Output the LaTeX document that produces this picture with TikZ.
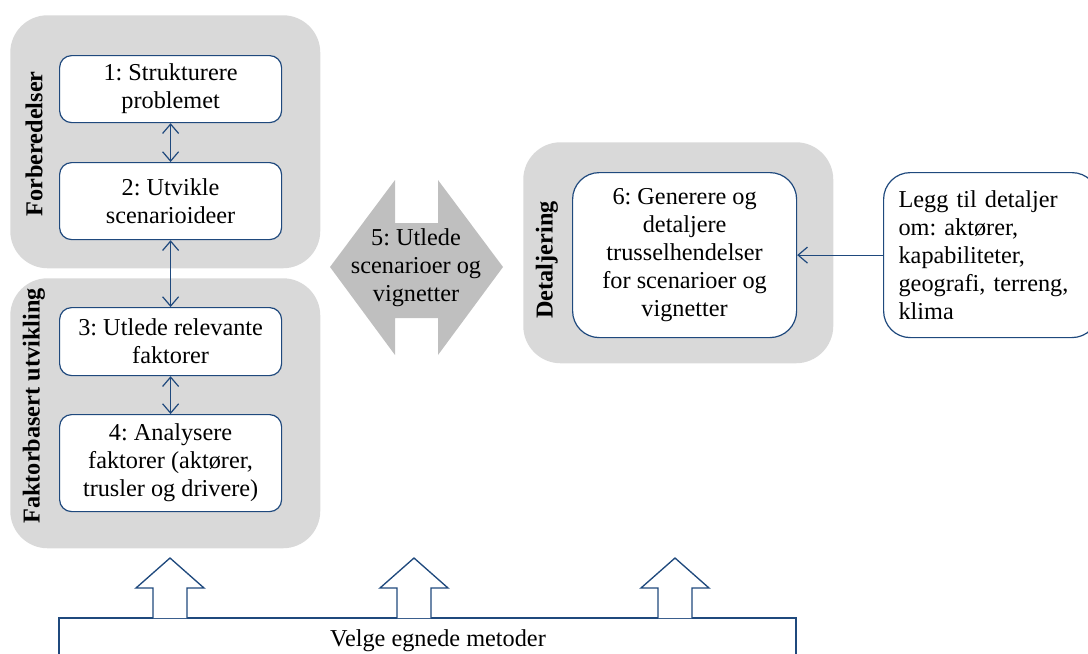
\documentclass[tikz,border=0pt]{standalone}
\usepackage{fontspec}
\setmainfont{Liberation Serif}
\usetikzlibrary{arrows.meta}
\definecolor{edge}{RGB}{31,73,125}
\definecolor{grp}{RGB}{217,217,217}
\definecolor{big}{RGB}{191,191,191}
\tikzset{
  grpbox/.style={fill=grp, draw=none, rounded corners=28pt},
  stepbox/.style={draw=edge, line width=0.9pt, fill=white, rounded corners=9pt, align=center, inner sep=0pt},
  grplabel/.style={rotate=90, font=\fontsize{18.2}{21}\selectfont\bfseries},
  lnk/.style={draw=edge, line width=0.9pt, {Straight Barb[length=7pt,width=12pt]}-{Straight Barb[length=7pt,width=12pt]}},
  blk/.style={draw=edge, line width=1pt, fill=white},
}
\begin{document}
\frenchspacing
\begin{tikzpicture}[x=0.75pt,y=-0.75pt, font=\fontsize{18.2}{21}\selectfont]
\useasboundingbox (0,0) rectangle (1088,653);
\clip (0,0) rectangle (1088,653);
% groups
\node[grpbox, minimum width=310*0.75pt, minimum height=253*0.75pt, anchor=north west] (g1) at (10,15) {};
\node[grpbox, minimum width=310*0.75pt, minimum height=270*0.75pt, anchor=north west] (g2) at (10,278) {};
\node[grpbox, minimum width=310*0.75pt, minimum height=221*0.75pt, anchor=north west] (g3) at (523,142) {};
\node[grplabel] (l1) at (34,144) {Forberedelser};
\node[grplabel] (l2) at (34,406) {Faktorbasert utvikling};
\node[grplabel] (l3) at (547,260) {Detaljering};
% steps
\node[stepbox, minimum width=222*0.75pt, minimum height=67*0.75pt, anchor=north west] (s1) at (59,55) {1: Strukturere\\problemet};
\node[stepbox, minimum width=222*0.75pt, minimum height=77*0.75pt, anchor=north west] (s2) at (59,162) {2: Utvikle\\scenarioideer};
\node[stepbox, minimum width=222*0.75pt, minimum height=68*0.75pt, anchor=north west] (s3) at (59,307) {3: Utlede relevante\\faktorer};
\node[stepbox, minimum width=222*0.75pt, minimum height=97*0.75pt, anchor=north west] (s4) at (59,414) {4: Analysere\\faktorer (aktører,\\trusler og drivere)};
\node[stepbox, rounded corners=20pt, minimum width=224*0.75pt, minimum height=165*0.75pt, anchor=north west] (s6) at (572,172) {6: Generere og\\detaljere\\trusselhendelser\\for scenarioer og\\vignetter};
\node[stepbox, rounded corners=20pt, align=left, text width=185*0.75pt, minimum width=215*0.75pt, minimum height=165*0.75pt, anchor=north west] (s7) at (883,172) {Legg til detaljer\\om: aktører,\\kapabiliteter,\\geografi, terreng,\\klima};
\draw[lnk] (s1.south) -- (s2.north);
\draw[lnk] (s2.south) -- (s3.north);
\draw[lnk] (s3.south) -- (s4.north);
\draw[draw=edge, line width=0.9pt, -{Straight Barb[length=7pt,width=12pt]}] (s7.west) -- (s6.east);
% big double arrow
\fill[big] (330,267) -- (395,180) -- (395,223) -- (438,223) -- (438,180) -- (503,267)
  -- (438,355) -- (438,318) -- (395,318) -- (395,355) -- cycle;
\node[align=center] (s5) at (416,268) {5: Utlede\\scenarioer og\\vignetter};
% bottom
\draw[edge, line width=1pt] (59,660) -- (59,618) -- (796,618) -- (796,660);
\node (m) at (438,641) {Velge egnede metoder};
\foreach \c/\n in {170/a1,414/a2,675/a3}{
  \draw[blk] (\c-17,618) -- (\c-17,588) -- (\c-34,588) -- (\c,558) -- (\c+34,588) -- (\c+17,588) -- (\c+17,618);
}
\end{tikzpicture}
\end{document}
